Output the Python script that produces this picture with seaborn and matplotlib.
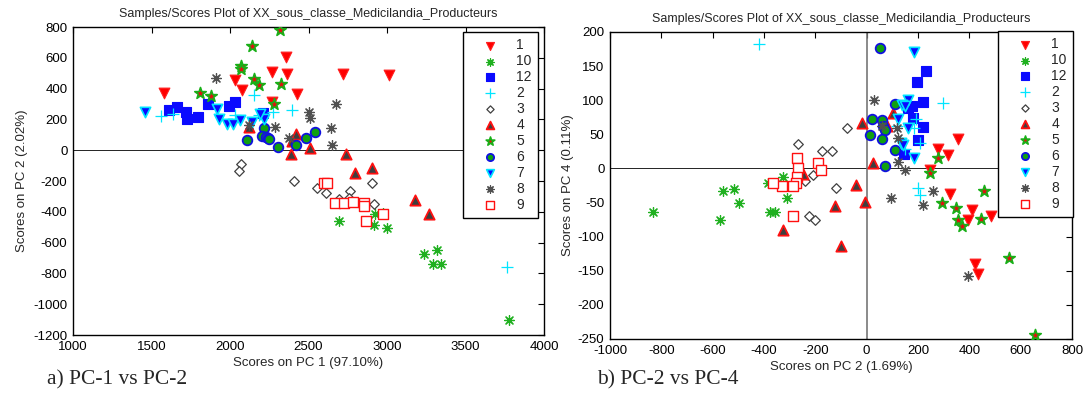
import pandas as pd
import seaborn as sns
import matplotlib.pyplot as plt

# class labels, in the order the legend lists them
classes = ['1', '10', '12', '2', '3', '4', '5', '6', '7', '8', '9']

# a) PC-1 vs PC-2 : (score PC1, score PC2) per class
a_1 = [(1580, 369), (2033, 456), (2076, 391), (2267, 506), (2358, 603), (2363, 495),
       (2427, 365), (2717, 495), (3015, 490), (2270, 310)]
a_10 = [(2696, -461), (2926, -417), (2915, -487), (3000, -504), (2972, -406),
        (3234, -671), (3319, -650), (3294, -739), (3341, -739), (3776, -1101)]
a_12 = [(1614, 262), (1665, 282), (1721, 245), (1725, 202), (1793, 217),
        (1857, 300), (1991, 289), (2029, 310), (2210, 239)]
a_2 = [(1559, 223), (1640, 238), (2150, 360), (2033, 228), (2182, 228),
       (2274, 251), (2395, 260), (3766, -760)]
a_3 = [(2071, -91), (2059, -135), (2405, -200), (2554, -243), (2611, -276),
       (2692, -315), (2762, -265), (2756, -309), (2905, -215), (2915, -352)]
a_4 = [(2118, 152), (2422, 104), (2395, 61), (2390, -22), (2507, 13), (2740, -22),
       (2798, -146), (2907, -113), (3181, -326), (3270, -417)]
a_5 = [(2316, 782), (2140, 675), (2067, 549), (2067, 527), (2156, 462),
       (2186, 423), (2322, 430), (1810, 371), (1880, 349), (2280, 300)]
a_6 = [(2108, 65), (2214, 147), (2203, 93), (2228, 88), (2240, 78),
       (2250, 72), (2305, 21), (2422, 33), (2486, 82), (2543, 119)]
a_7 = [(1459, 251), (1920, 267), (1931, 202), (1984, 169), (2018, 169),
       (2061, 195), (2140, 186), (2218, 202), (2193, 238)]
a_8 = [(1912, 469), (2118, 165), (2288, 152), (2373, 78), (2500, 251),
       (2511, 206), (2677, 300), (2645, 141), (2650, 33)]
a_9 = [(2596, -211), (2620, -211), (2671, -341), (2724, -341), (2784, -335),
       (2851, -341), (2855, -363), (2972, -417), (2869, -461)]

# b) PC-2 vs PC-4 : (score PC2, score PC4) per class
b_1 = [(357, 43), (279, 28), (318, 20), (247, -3), (325, -37), (409, -61),
       (396, -75), (484, -70), (422, -140), (435, -155)]
b_10 = [(-831, -64), (-571, -75), (-561, -33), (-516, -30), (-496, -51),
        (-377, -64), (-357, -64), (-325, -12), (-312, -44), (-383, -22)]
b_12 = [(230, 143), (197, 126), (218, 98), (178, 92), (162, 88), (179, 74),
        (221, 61), (201, 41), (145, 21)]
b_2 = [(-420, 183), (298, 96), (192, 72), (184, 60), (117, 62), (149, 29),
       (208, 37), (199, -29), (208, -39)]
b_3 = [(-78, 60), (-266, 36), (-173, 25), (-136, 25), (-208, -10), (-120, -29),
       (-224, -69), (-201, -75), (-240, -18)]
b_4 = [(-19, 66), (101, 82), (78, 62), (26, 8), (-42, -25), (-123, -55),
       (-6, -49), (-101, -114), (-325, -90), (-247, -8)]
b_5 = [(276, 15), (247, -6), (458, -33), (295, -50), (348, -58), (357, -76),
       (370, -84), (445, -74), (556, -131), (656, -244)]
b_6 = [(52, 177), (110, 94), (19, 72), (58, 71), (65, 62), (72, 56), (13, 49),
       (61, 43), (110, 27), (71, 3)]
b_7 = [(184, 170), (162, 101), (136, 93), (150, 92), (123, 72), (162, 59),
       (134, 38), (142, 34), (184, 16)]
b_8 = [(28, 100), (58, 62), (117, 60), (121, 44), (121, 9), (149, -3),
       (260, -33), (95, -44), (218, -54), (396, -157)]
b_9 = [(-273, 15), (-266, 0), (-270, -12), (-275, -21), (-286, -26), (-331, -26),
       (-366, -21), (-189, 8), (-179, -2), (-286, -69)]

panel_a = dict(zip(classes, [a_1, a_10, a_12, a_2, a_3, a_4, a_5, a_6, a_7, a_8, a_9]))
panel_b = dict(zip(classes, [b_1, b_10, b_12, b_2, b_3, b_4, b_5, b_6, b_7, b_8, b_9]))

rows = []
for panel, pts in [('a', panel_a), ('b', panel_b)]:
    for cls, lst in pts.items():
        for x, y in lst:
            rows.append({'panel': panel, 'cls': cls, 'x': x, 'y': y})
df = pd.DataFrame(rows)

# MATLAB-like marker styles: marker, face, edge (None = line marker), size, width
styles = {
    '1':  ('v', '#ff0000', '#ff2020', 60, 0.8),
    '10': ((8, 2, 0), '#20b020', None, 50, 0.9),
    '12': ('s', '#0a0aff', '#0a0aff', 48, 0.8),
    '2':  ('+', '#00e5ff', None, 75, 0.9),
    '3':  ('D', 'white', '#404040', 24, 0.9),
    '4':  ('^', '#3f3f3f', '#ff1010', 55, 1.3),
    '5':  ('*', '#e01010', '#18b018', 75, 1.2),
    '6':  ('o', '#10a010', '#1010e0', 48, 1.3),
    '7':  ('v', '#0a0aff', '#00e5ff', 55, 1.2),
    '8':  ((8, 2, 0), '#505050', None, 50, 0.9),
    '9':  ('s', 'white', '#ff1010', 60, 1.0),
}

sns.set_theme(style='white')
plt.rcParams['font.family'] = ['Liberation Sans', 'DejaVu Sans']
plt.rcParams['axes.unicode_minus'] = False

fig = plt.figure(figsize=(10.88, 3.94), dpi=100)
W, H = 1088, 394
ax1 = fig.add_axes([73 / W, 1 - 335 / H, (544 - 73) / W, (335 - 27) / H])
ax2 = fig.add_axes([610 / W, 1 - 339 / H, (1072 - 610) / W, (339 - 32) / H])

for ax, panel in [(ax1, 'a'), (ax2, 'b')]:
    ax.axhline(0, color='black', lw=0.6, zorder=1)
    if panel == 'b':
        ax.axvline(0, color='#777777', lw=1.2, zorder=1)
    for cls in classes:
        sub = df[(df['panel'] == panel) & (df['cls'] == cls)]
        mk, face, edge, size, lw = styles[cls]
        kw = dict(marker=mk, s=size, linewidth=lw, color=face, label=cls, zorder=3)
        if edge is not None:
            kw['edgecolor'] = edge
        sns.scatterplot(data=sub, x='x', y='y', ax=ax, legend=False, **kw)

    ax.tick_params(direction='in', top=True, right=True, length=4, width=0.8,
                   labelsize=9.5, colors='black', pad=4)
    for sp in ax.spines.values():
        sp.set_linewidth(1.0)
        sp.set_color('black')
    ax.set_title('Samples/Scores Plot of XX_sous_classe_Medicilandia_Producteurs',
                 fontsize=9, pad=7)

ax1.set_xlim(1000, 4000)
ax1.set_ylim(-1200, 800)
ax1.set_xticks(range(1000, 4001, 500))
ax1.set_yticks(range(-1200, 801, 200))
ax1.set_xlabel('Scores on PC 1 (97.10%)', fontsize=9.5, labelpad=3)
ax1.set_ylabel('Scores on PC 2 (2.02%)', fontsize=9.5, labelpad=4)

ax2.set_xlim(-1000, 800)
ax2.set_ylim(-250, 200)
ax2.set_xticks(range(-1000, 801, 200))
ax2.set_yticks(range(-250, 201, 50))
ax2.set_xlabel('Scores on PC 2 (1.69%)', fontsize=9.5, labelpad=3)
ax2.set_ylabel('Scores on PC 4 (0.11%)', fontsize=9.5, labelpad=3)

for ax, anchor in [(ax1, (538 / W, 1 - 32 / H)), (ax2, (1073 / W, 1 - 31 / H))]:
    leg = ax.legend(loc='upper right', bbox_to_anchor=anchor, bbox_transform=fig.transFigure,
                    borderaxespad=0, fontsize=10, frameon=True, fancybox=False,
                    framealpha=1, edgecolor='black', handlelength=3.0,
                    handletextpad=0.4, labelspacing=0.14, borderpad=0.45,
                    markerscale=0.75)
    leg.get_frame().set_linewidth(1.0)

fig.text(47 / W, 1 - 380 / H, 'a) PC-1 vs PC-2', fontsize=15.5, va='center',
         family='Liberation Serif')
fig.text(597 / W, 1 - 380 / H, 'b) PC-2 vs PC-4', fontsize=15.5, va='center',
         family='Liberation Serif')

fig.savefig('out.png', dpi=100, facecolor='white')
